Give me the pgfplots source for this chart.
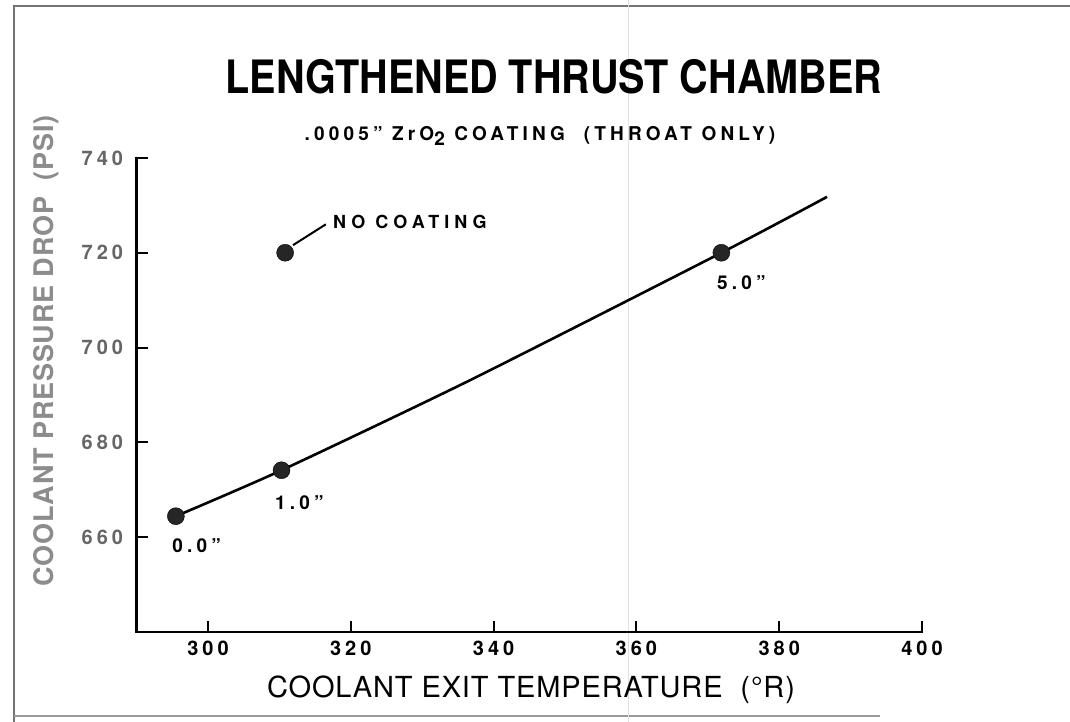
\documentclass[border=0pt]{standalone}
\usepackage{pgfplots}
\pgfplotsset{compat=1.18}
\usepackage{fontspec}
\setmainfont{TeX Gyre Heros}
\newfontfamily\tickfont[LetterSpace=20]{TeX Gyre Heros}
\newfontfamily\labfont[LetterSpace=22]{TeX Gyre Heros}
\newfontfamily\notefont[LetterSpace=28]{TeX Gyre Heros}
\newfontfamily\ptfont[LetterSpace=22]{TeX Gyre Heros}
\newfontfamily\axfont[LetterSpace=3]{TeX Gyre Heros}
\newfontfamily\titlefont[FakeStretch=0.86]{TeX Gyre Heros}

\begin{document}
\begin{tikzpicture}[x=1pt,y=1pt]
\path[use as bounding box] (0,0) rectangle (1070,722);
% scan frame and fold
\draw[black!55, line width=1.6pt] (14,0) -- (14,716) -- (1070,716);
\draw[black!40, line width=1.2pt] (14,6) -- (880,6);
\draw[black!12, line width=0.8pt] (628,0) -- (628,722);

\begin{axis}[
    at={(136.6pt,90.2pt)}, anchor=south west,
    scale only axis,
    width=785.4pt, height=473.8pt,
    xmin=290, xmax=400,
    ymin=640, ymax=740,
    axis x line*=bottom,
    axis y line*=left,
    axis line style={line width=2.4pt, line cap=rect},
    xtick={300,320,...,400},
    ytick={660,680,...,740},
    tick align=inside,
    major tick length=11pt,
    tick style={line width=2pt, black},
    /pgf/number format/assume math mode=true,
    xticklabel style={font=\tickfont\bfseries\fontsize{20}{20}\selectfont, yshift=-6pt},
    yticklabel style={font=\tickfont\bfseries\fontsize{20}{20}\selectfont, text=black!60, xshift=-10pt},
    clip=false,
]
% fitted curve
\addplot[black, line width=2.6pt, smooth, tension=0.4] coordinates {
    (295.5,664.4) (310.3,674.1) (336.7,693.1) (371.9,720.0) (386.7,731.8)
};
% lengthened chamber points
\addplot[only marks, mark=*, mark size=8.5pt, mark options={fill=black!85, draw=black}] coordinates {
    (295.5,664.4) (310.3,674.1) (371.9,720.0)
};
% no coating
\addplot[only marks, mark=*, mark size=8.5pt, mark options={fill=black!85, draw=black}] coordinates {
    (310.8,720.0)
};
\draw[line width=2pt] (axis cs:311.9,721.6) -- (axis cs:316.5,726.0);
\node[anchor=west, font=\notefont\bfseries\fontsize{18}{18}\selectfont, inner sep=0pt] at (axis cs:317.5,726.4) {NO COATING};
\node[font=\ptfont\bfseries\fontsize{19}{19}\selectfont] at (axis cs:298.4,658.1) {0.0”};
\node[font=\ptfont\bfseries\fontsize{19}{19}\selectfont] at (axis cs:312.8,667.2) {1.0”};
\node[font=\ptfont\bfseries\fontsize{19}{19}\selectfont] at (axis cs:374.7,713.6) {5.0”};
\end{axis}

\node[font=\titlefont\bfseries\fontsize{46}{46}\selectfont] at (554,645) {LENGTHENED THRUST CHAMBER};
\node[font=\labfont\bfseries\fontsize{19}{19}\selectfont] at (540,586) {.0005” ZrO\raisebox{-0.4ex}{2} COATING\ \ (THROAT ONLY)};
\node[font=\axfont\fontsize{29}{29}\selectfont] at (531,32) {COOLANT EXIT TEMPERATURE\ \ (°R)};
\node[font=\axfont\bfseries\fontsize{27}{27}\selectfont, text=black!45, rotate=90] at (46,371) {COOLANT PRESSURE DROP\ \ (PSI)};
\end{tikzpicture}
\end{document}
